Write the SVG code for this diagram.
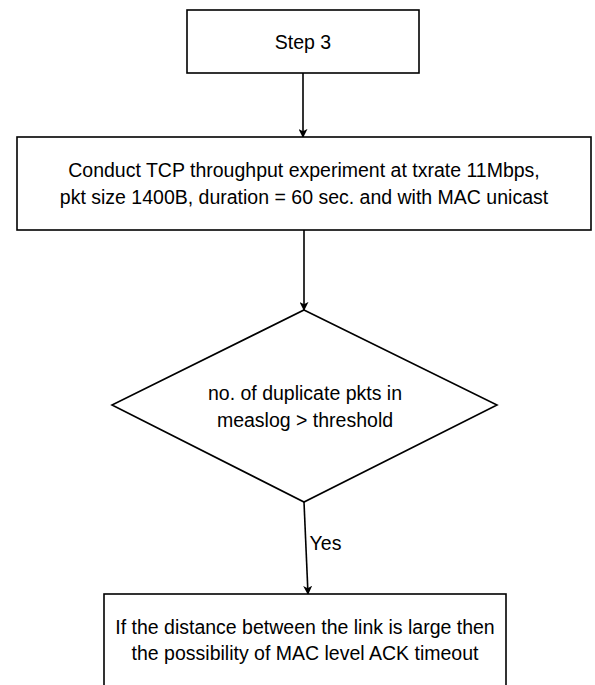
<svg xmlns="http://www.w3.org/2000/svg" width="595" height="685" viewBox="0 0 595 685">
  <style>
    .shape { fill: #ffffff; stroke: #000000; stroke-width: 1.6; }
    .edge { fill: none; stroke: #000000; stroke-width: 1.6; }
    .label { font-family: "Liberation Sans", Arial, sans-serif; font-size: 19.5px; fill: #000000; text-anchor: middle; }
  </style>
  <defs>
    <marker id="arrow" viewBox="0 0 10 10" refX="9" refY="5" markerWidth="9" markerHeight="9" markerUnits="userSpaceOnUse" orient="auto">
      <path d="M0,0 L10,5 L0,10 L2.5,5 Z" fill="#000000"/>
    </marker>
  </defs>
  <rect width="595" height="685" fill="#ffffff"/>

  <g id="connectors">
    <line class="edge" x1="303" y1="73" x2="303" y2="137" marker-end="url(#arrow)"/>
    <line class="edge" x1="304" y1="230" x2="304" y2="310" marker-end="url(#arrow)"/>
    <line class="edge" x1="304" y1="502" x2="308" y2="594" marker-end="url(#arrow)"/>
    <text class="label" x="325.5" y="550">Yes</text>
  </g>

  <g id="step3">
    <rect class="shape" x="187" y="10" width="232" height="63"/>
    <text class="label" x="303" y="48.5">Step 3</text>
  </g>

  <g id="experiment">
    <rect class="shape" x="17" y="137" width="574" height="93"/>
    <text class="label" x="304" y="177">Conduct TCP throughput experiment at txrate 11Mbps,</text>
    <text class="label" x="304" y="204">pkt size 1400B, duration = 60 sec. and with MAC unicast</text>
  </g>

  <g id="duplicates">
    <polygon class="shape" points="304,310 497,405 304,502 112,405"/>
    <text class="label" x="305" y="399.5">no. of duplicate pkts in</text>
    <text class="label" x="305" y="426.5">measlog &gt; threshold</text>
  </g>

  <g id="ack-timeout">
    <rect class="shape" x="104" y="594" width="402" height="120"/>
    <text class="label" x="305" y="634">If the distance between the link is large then</text>
    <text class="label" x="305" y="660">the possibility of MAC level ACK timeout</text>
  </g>
</svg>
